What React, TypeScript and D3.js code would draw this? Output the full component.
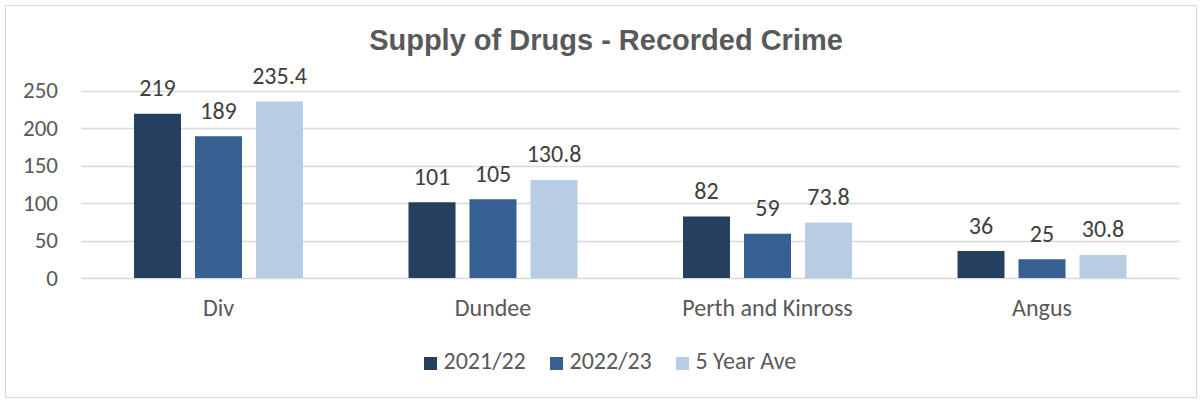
import React from "react";
import * as d3 from "d3";

const categories = ["Div", "Dundee", "Perth and Kinross", "Angus"];
const seriesNames = ["2021/22", "2022/23", "5 Year Ave"];
const values2122 = [219, 101, 82, 36];
const values2223 = [189, 105, 59, 25];
const values5yr = [235.4, 130.8, 73.8, 30.8];
const yTicks = [0, 50, 100, 150, 200, 250];
const colors = ["#243F60", "#366092", "#B8CCE4"];

const W = 1203;
const H = 401;
const left = 81.25;
const right = 1179.25;
const top = 90.5;
const bottom = 278;
const FONT = "Carlito, Calibri, Lato, 'Open Sans', sans-serif";

export default function App() {
  const series = [values2122, values2223, values5yr];
  const x = d3.scaleBand<string>().domain(categories).range([left, right]).paddingInner(0).paddingOuter(0);
  const y = d3.scaleLinear().domain([0, 250]).range([bottom, top]);
  const barW = 47;
  const gap = 14;
  const groupW = barW * 3 + gap * 2;
  const legendX = [424, 550, 676];

  return (
    <svg width={W} height={H} style={{ position: "absolute", left: 0, top: 0, display: "block" }}>
      <rect x={0} y={0} width={W} height={H} fill="#fff" />
      <rect x={5.5} y={5.5} width={1191} height={392} fill="#fff" stroke="#D9D9D9" strokeWidth={1} />
      <text x={606} y={50} textAnchor="middle" fontFamily="'Liberation Sans', Arial, sans-serif" fontWeight="bold" fontSize={29} fill="#595959">
        Supply of Drugs - Recorded Crime
      </text>
      {yTicks.map((t) => (
        <g key={t}>
          <line x1={left} x2={right} y1={Math.round(y(t)) + 0.5} y2={Math.round(y(t)) + 0.5} stroke="#D9D9D9" strokeWidth={1.3} />
          <text x={58} y={y(t) + 7.8} textAnchor="end" fontFamily={FONT} fontSize={23} fill="#595959">{t}</text>
        </g>
      ))}
      {categories.map((c, ci) => {
        const cx = (x(c) as number) + x.bandwidth() / 2;
        const x0 = cx - groupW / 2;
        return (
          <g key={c}>
            {series.map((s, si) => {
              const bx = x0 + si * (barW + gap);
              const by = y(s[ci]);
              return (
                <g key={si}>
                  <rect x={bx} y={by} width={barW} height={bottom - by} fill={colors[si]} />
                  <text x={bx + barW / 2} y={by - 17.5} textAnchor="middle" fontFamily={FONT} fontSize={24} fill="#404040">{s[ci]}</text>
                </g>
              );
            })}
            <text x={cx} y={315.7} textAnchor="middle" fontFamily={FONT} fontSize={24} fill="#595959">{c}</text>
          </g>
        );
      })}
      {seriesNames.map((n, i) => (
        <g key={n}>
          <rect x={legendX[i]} y={357} width={13} height={13} fill={colors[i]} />
          <text x={legendX[i] + 19.5} y={369.3} fontFamily={FONT} fontSize={24} fill="#595959">{n}</text>
        </g>
      ))}
    </svg>
  );
}
